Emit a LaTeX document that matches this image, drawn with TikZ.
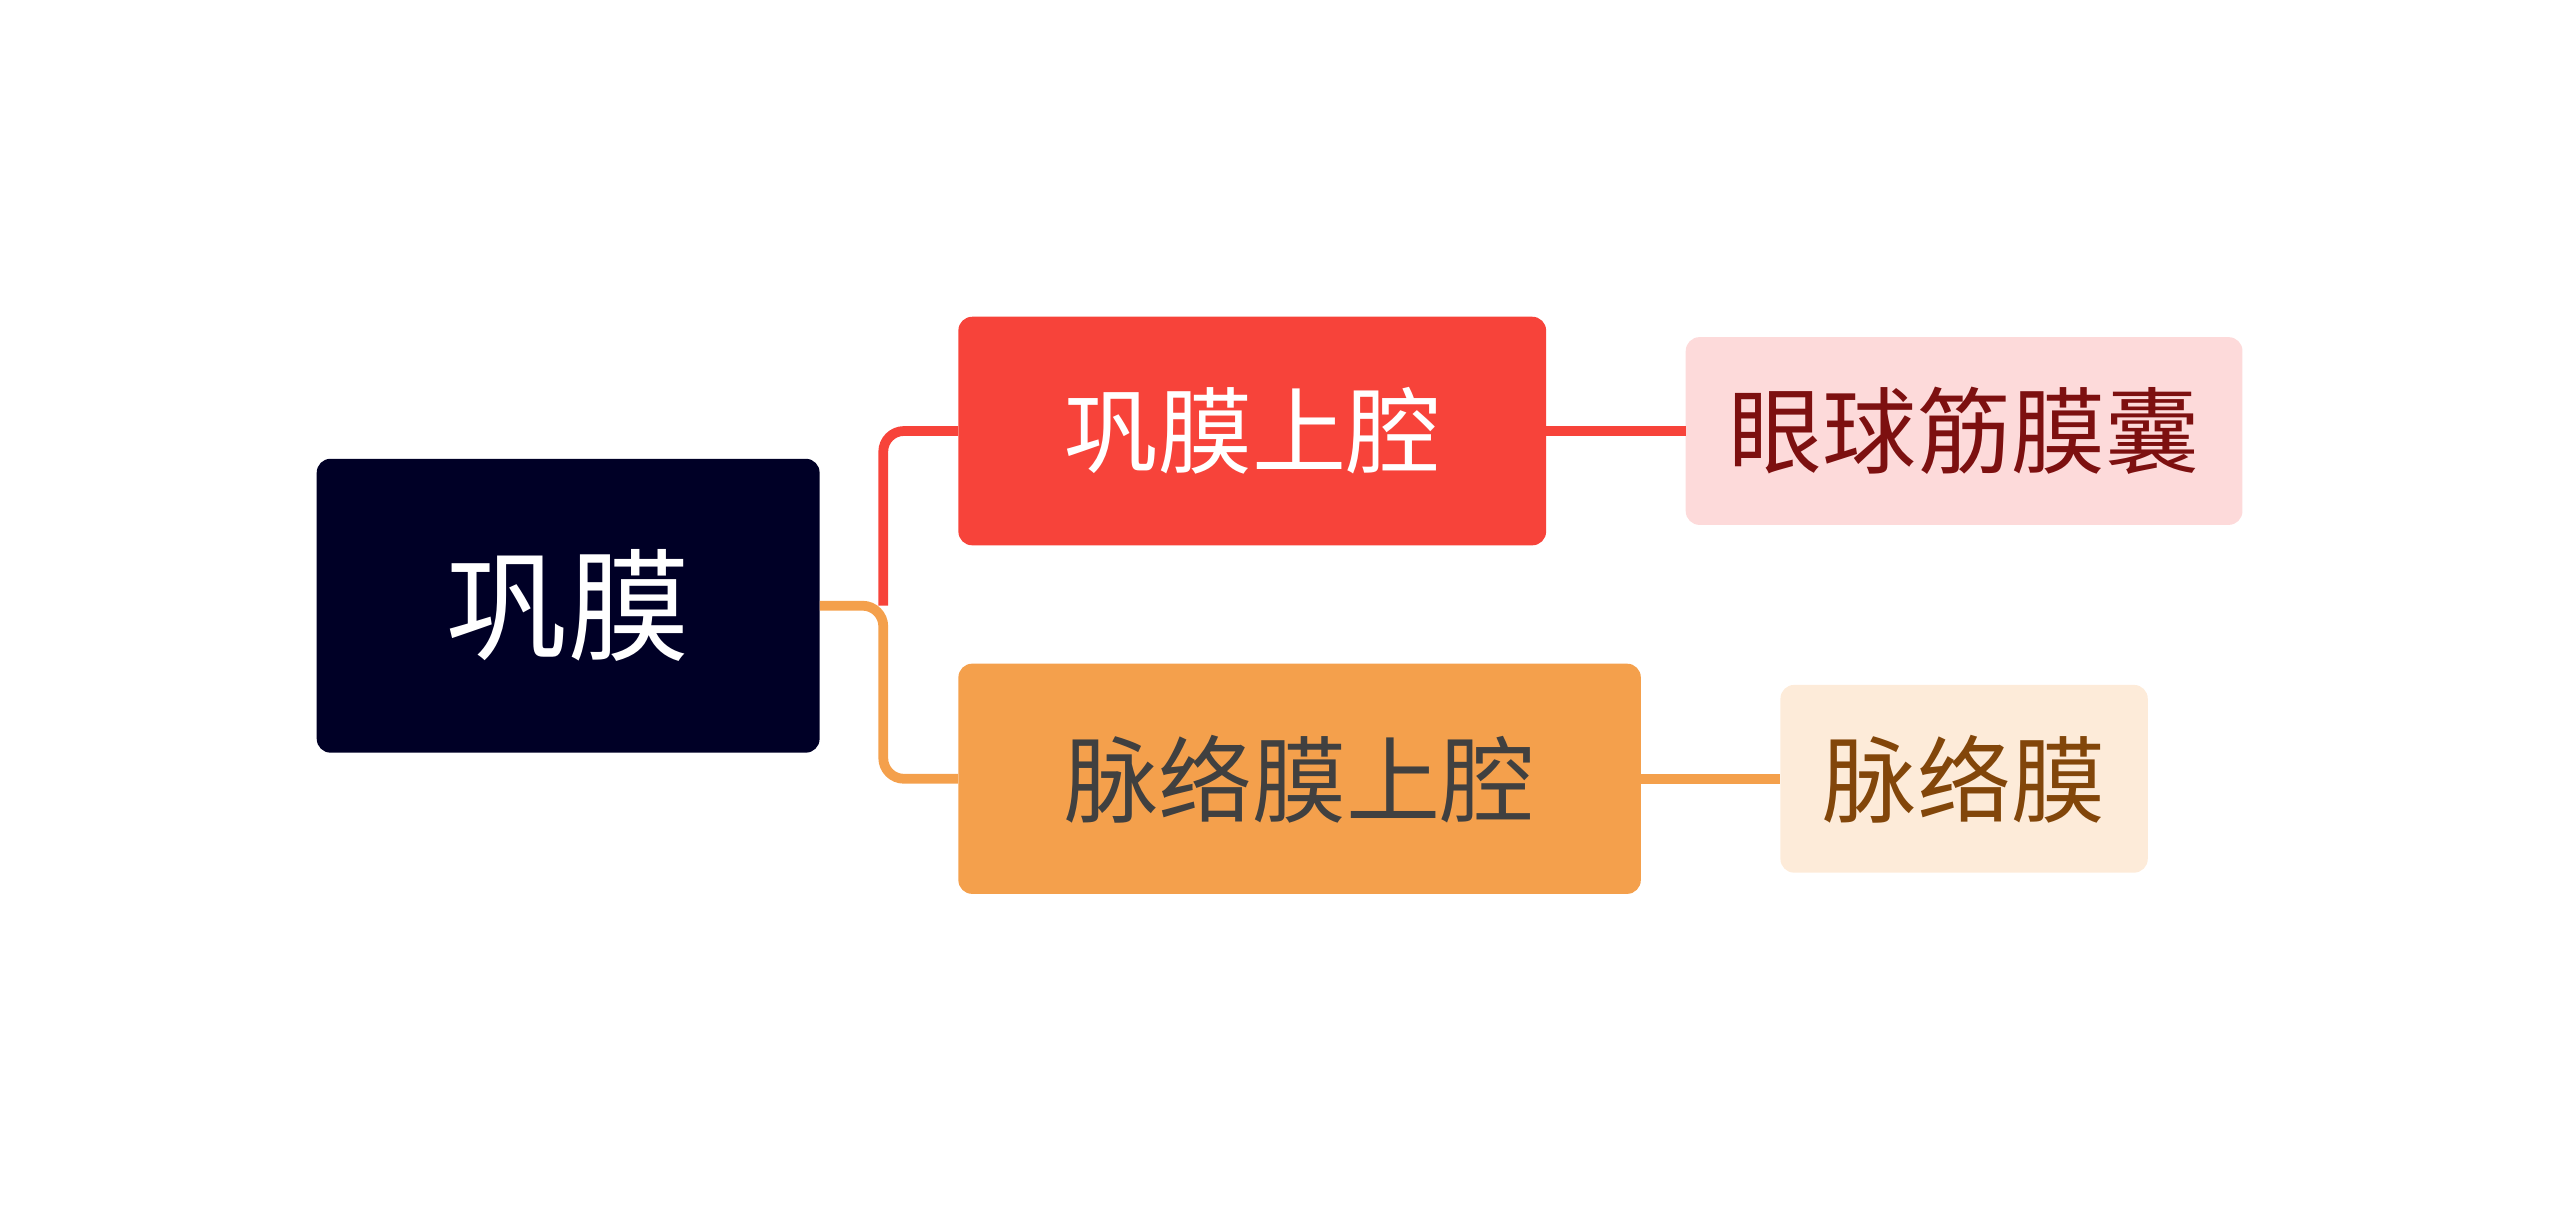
\documentclass[tikz,border=0pt]{standalone}
\usepackage{fontspec}
\setmainfont{Noto Sans CJK SC}
\definecolor{navy}{RGB}{0,0,38}
\definecolor{redc}{RGB}{247,67,58}
\definecolor{orangec}{RGB}{244,160,76}
\definecolor{pinkc}{RGB}{253,218,218}
\definecolor{pinkt}{RGB}{125,16,16}
\definecolor{peachc}{RGB}{253,235,217}
\definecolor{peacht}{RGB}{130,70,10}
\begin{document}
\begin{tikzpicture}[x=0.05cm, y=-0.05cm,
  box/.style = {rounded corners=12pt, inner sep=0pt, font=\fontsize{82}{90}\selectfont},
  link/.style = {line width=8.5pt, rounded corners=18pt}]
\useasboundingbox (0,0) rectangle (1568,742);
\node[box, fill=navy, text=white, minimum width=308*0.05cm, minimum height=180*0.05cm,
  font=\fontsize{106}{120}\selectfont] (root) at (348,371) {巩膜};
\node[box, fill=redc, text=white, minimum width=360*0.05cm, minimum height=140*0.05cm] (red) at (767,264) {巩膜上腔};
\node[box, fill=orangec, text=black!75, minimum width=418*0.05cm, minimum height=141*0.05cm] (orange) at (796,477) {脉络膜上腔};
\node[box, fill=pinkc, text=pinkt, minimum width=341*0.05cm, minimum height=115*0.05cm] (pink) at (1203,264) {眼球筋膜囊};
\node[box, fill=peachc, text=peacht, minimum width=225*0.05cm, minimum height=115*0.05cm] (peach) at (1203,477) {脉络膜};
\coordinate (fork) at (541,371);
\draw[link, redc] (fork) |- (red.west);
\draw[link, orangec] (root.east) -- (fork) |- (orange.west);
\draw[link, redc] (red.east) -- (pink.west);
\draw[link, orangec] (orange.east) -- (peach.west);
\end{tikzpicture}
\end{document}
